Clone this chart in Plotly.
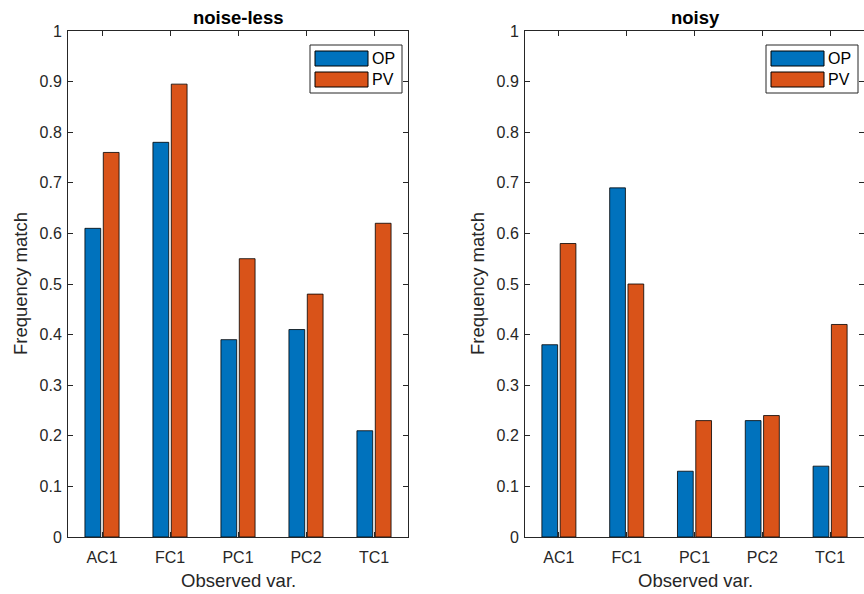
import plotly.graph_objects as go
from plotly.subplots import make_subplots

categories = ["AC1", "FC1", "PC1", "PC2", "TC1"]
noiseless_op = [0.61, 0.78, 0.39, 0.41, 0.21]
noiseless_pv = [0.76, 0.895, 0.55, 0.48, 0.62]
noisy_op = [0.38, 0.69, 0.13, 0.23, 0.14]
noisy_pv = [0.58, 0.50, 0.23, 0.24, 0.42]
series_names = ["OP", "PV"]
titles = ["noise-less", "noisy"]
xlabel = "Observed var."
ylabel = "Frequency match"

C_OP = "#0072BD"
C_PV = "#D95319"
AX = "#262626"
W, H = 864, 594
FONT = "Liberation Sans, Arial, Helvetica, sans-serif"
TICK = 16
LAB = 18.5

fig = make_subplots(rows=1, cols=2)
panels = [(noiseless_op, noiseless_pv), (noisy_op, noisy_pv)]
for i, (op, pv) in enumerate(panels, start=1):
    fig.add_trace(go.Bar(x=categories, y=op, name=series_names[0],
                         marker=dict(color=C_OP, line=dict(color="black", width=0.8)), showlegend=False), row=1, col=i)
    fig.add_trace(go.Bar(x=categories, y=pv, name=series_names[1],
                         marker=dict(color=C_PV, line=dict(color="black", width=0.8)), showlegend=False), row=1, col=i)


def px(x):
    return x / W


def py(y):
    return 1 - y / H


AXL = [(68, 408), (525, 865)]
doms = [(px(68), px(408)), (px(525), 1.0)]
ydom = (py(537), py(31))

for i, d in enumerate(doms, start=1):
    xa = "xaxis" if i == 1 else "xaxis2"
    ya = "yaxis" if i == 1 else "yaxis2"
    fig.layout[xa].update(domain=list(d), range=[-0.5, 4.5], showline=True, linecolor=AX, linewidth=1,
                          mirror="ticks", ticks="inside", ticklen=5, tickcolor=AX, automargin=False,
                          ticklabelstandoff=6,
                          tickfont=dict(size=TICK, color=AX, family=FONT), showgrid=False, zeroline=False)
    fig.layout[ya].update(domain=list(ydom), range=[0, 1], dtick=0.1, tick0=0, showline=True, linecolor=AX, linewidth=1,
                          mirror="ticks", ticks="inside", ticklen=5, tickcolor=AX, automargin=False,
                          ticklabelstandoff=2,
                          tickfont=dict(size=TICK, color=AX, family=FONT), showgrid=False, zeroline=False)

annotations = []
shapes = []
for (x0, x1), t in zip(AXL, titles):
    annotations.append(dict(x=px((x0 + x1) / 2), y=py(18), xref="paper", yref="paper", text="<b>%s</b>" % t,
                            showarrow=False, font=dict(size=LAB, color="black", family=FONT),
                            xanchor="center", yanchor="middle"))
    annotations.append(dict(x=px((x0 + x1) / 2), y=py(580), xref="paper", yref="paper", text=xlabel,
                            showarrow=False, font=dict(size=LAB, color=AX, family=FONT),
                            xanchor="center", yanchor="middle"))
    annotations.append(dict(x=px(x0 - 48), y=py(284), xref="paper", yref="paper", text=ylabel, textangle=-90,
                            showarrow=False, font=dict(size=LAB, color=AX, family=FONT),
                            xanchor="center", yanchor="middle"))

for bx0 in [310, 766]:
    bx1 = bx0 + 92
    shapes.append(dict(type="rect", xref="paper", yref="paper", x0=px(bx0), x1=px(bx1), y0=py(93), y1=py(45),
                       line=dict(color=AX, width=1), fillcolor="white", layer="above"))
    for (sy0, sy1), col, nm in [((51, 66), C_OP, series_names[0]), ((72, 87), C_PV, series_names[1])]:
        shapes.append(dict(type="rect", xref="paper", yref="paper", x0=px(bx0 + 5), x1=px(bx0 + 58),
                           y0=py(sy1), y1=py(sy0), line=dict(color="black", width=1), fillcolor=col, layer="above"))
        annotations.append(dict(x=px(bx0 + 60), y=py((sy0 + sy1) / 2), xref="paper", yref="paper", text=nm,
                                showarrow=False, xanchor="left", yanchor="middle",
                                font=dict(size=TICK, color="black", family=FONT)))

fig.update_layout(width=W, height=H, margin=dict(l=0, r=0, t=0, b=0), paper_bgcolor="white",
                  plot_bgcolor="white", barmode="group", bargap=0.46, bargroupgap=0.14,
                  annotations=annotations, shapes=shapes, font=dict(family=FONT, color=AX), showlegend=False)

fig.write_html("out.html")
